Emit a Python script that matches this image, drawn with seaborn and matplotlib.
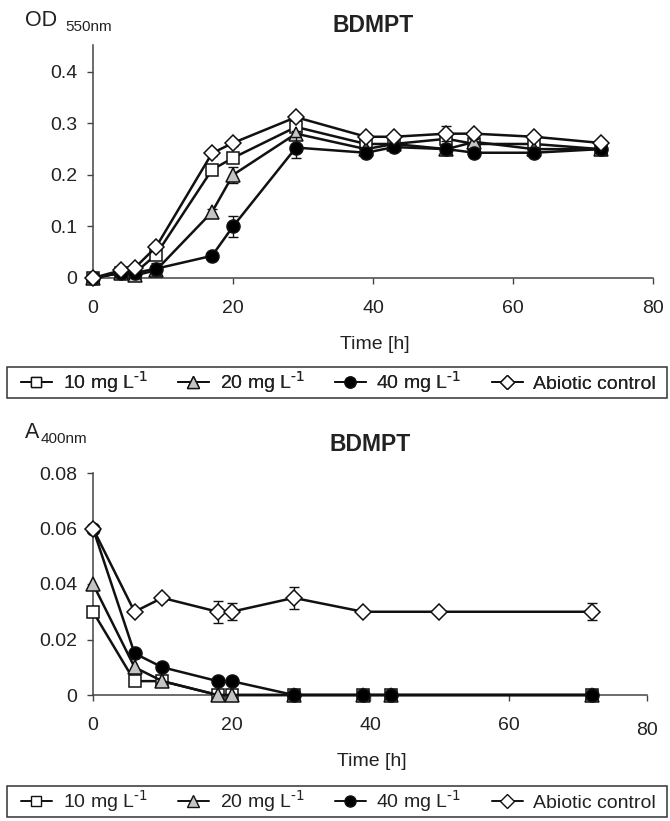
import matplotlib
matplotlib.use("Agg")
import matplotlib.pyplot as plt
import matplotlib.transforms as mtransforms
from matplotlib.patches import Rectangle
import seaborn as sns
from matplotlib.lines import Line2D

# ---------------- data ----------------
series_labels = [r"10 mg L$^{\text{-1}}$", r"20 mg L$^{\text{-1}}$", r"40 mg L$^{\text{-1}}$", "Abiotic control"]

# Top panel: OD 550nm
time_top = [0, 4, 6, 9, 17, 20, 29, 39, 43, 50.5, 54.5, 63, 72.5]
od_10 = [0, 0.01, 0.01, 0.045, 0.21, 0.233, 0.293, 0.26, 0.26, 0.27, 0.26, 0.26, 0.25]
od_20 = [0, 0.01, 0.005, 0.015, 0.128, 0.2, 0.28, 0.25, 0.26, 0.25, 0.264, 0.25, 0.25]
od_40 = [0, 0.01, 0.01, 0.018, 0.043, 0.1, 0.253, 0.243, 0.254, 0.25, 0.243, 0.243, 0.25]
od_abiotic = [0, 0.015, 0.02, 0.06, 0.242, 0.262, 0.312, 0.274, 0.274, 0.28, 0.28, 0.274, 0.262]
od_10_err = [0, 0, 0, 0.005, 0.005, 0.008, 0.005, 0.005, 0.005, 0.015, 0.005, 0.005, 0.012]
od_20_err = [0, 0, 0, 0.005, 0.005, 0.015, 0.005, 0.005, 0.005, 0.01, 0.005, 0.005, 0.01]
od_40_err = [0, 0, 0, 0.012, 0.005, 0.02, 0.02, 0.005, 0.005, 0.01, 0.005, 0.005, 0.01]
od_abiotic_err = [0, 0, 0, 0.005, 0.005, 0.005, 0.005, 0.005, 0.005, 0.015, 0.005, 0.005, 0.005]

# Bottom panel: A 400nm
time_bot = [0, 6, 10, 18, 20, 29, 39, 43, 72]
time_bot_abiotic = [0, 6, 10, 18, 20, 29, 39, 50, 72]
a_10 = [0.03, 0.005, 0.005, 0, 0, 0, 0, 0, 0]
a_20 = [0.04, 0.01, 0.005, 0, 0, 0, 0, 0, 0]
a_40 = [0.06, 0.015, 0.01, 0.005, 0.005, 0, 0, 0, 0]
a_abiotic = [0.06, 0.03, 0.035, 0.03, 0.03, 0.035, 0.03, 0.03, 0.03]
a_abiotic_err = [0, 0, 0.001, 0.004, 0.003, 0.004, 0, 0, 0.003]

x_ticks = [0, 20, 40, 60, 80]
top_yticks = [0, 0.1, 0.2, 0.3, 0.4]
top_yticklabels = ["0", "0.1", "0.2", "0.3", "0.4"]
bot_yticks = [0, 0.02, 0.04, 0.06, 0.08]
bot_yticklabels = ["0", "0.02", "0.04", "0.06", "0.08"]

# ---------------- style ----------------
sns.set_theme(style="ticks")
plt.rcParams["font.family"] = ["Liberation Sans", "DejaVu Sans"]
plt.rcParams["mathtext.default"] = "regular"
TXT = "#222222"
AXC = "#444444"

W, H = 670, 821
fig = plt.figure(figsize=(W / 100, H / 100), dpi=100)

def fx(px):
    return px / W

def fy(py):
    return 1 - py / H

styles = [
    dict(marker="s", markerfacecolor="white", markersize=8.8),
    dict(marker="^", markerfacecolor="#c4c4c4", markersize=10.2),
    dict(marker="o", markerfacecolor="black", markersize=9.4),
    dict(marker="D", markerfacecolor="white", markersize=8.4),
]

def style_axes(ax, yticks, yticklabels, ylim, xlim):
    sns.despine(ax=ax)
    ax.set_xlim(*xlim)
    ax.set_ylim(*ylim)
    ax.set_xticks(x_ticks)
    ax.set_xticklabels([str(t) for t in x_ticks])
    ax.set_yticks(yticks)
    ax.set_yticklabels(yticklabels)
    for s in ["left", "bottom"]:
        ax.spines[s].set_color(AXC)
        ax.spines[s].set_linewidth(1.1)
    ax.tick_params(axis="both", direction="out", length=4.5, width=1.0,
                   color=AXC, labelsize=14, labelcolor=TXT)
    ax.tick_params(axis="x", pad=11)
    ax.tick_params(axis="y", pad=7)
    ax.set_xlabel("")
    ax.set_ylabel("")
    if ax.get_legend() is not None:
        ax.get_legend().remove()

def draw(ax, xs_list, ys_list, errs_list):
    for i, (xs, ys, errs) in enumerate(zip(xs_list, ys_list, errs_list)):
        st = styles[i]
        if errs is not None:
            ax.errorbar(xs, ys, yerr=errs, fmt="none", ecolor="#111111",
                        elinewidth=1.0, capsize=3.5, capthick=1.0, zorder=2 + i, clip_on=False)
        sns.lineplot(x=xs, y=ys, ax=ax, color="#111111", linewidth=1.8,
                     marker=st["marker"], markerfacecolor=st["markerfacecolor"],
                     markeredgecolor="#111111", markeredgewidth=1.1,
                     markersize=st["markersize"], clip_on=False, zorder=3 + i,
                     errorbar=None, estimator=None, sort=False)

# Top panel
ax1 = fig.add_axes([fx(93), fy(278), fx(653) - fx(93), fy(45) - fy(278)])
draw(ax1, [time_top] * 4, [od_10, od_20, od_40, od_abiotic],
     [od_10_err, od_20_err, od_40_err, od_abiotic_err])
style_axes(ax1, top_yticks, top_yticklabels, (0, 0.452), (0, 80))
ax1.set_title("BDMPT", fontsize=16.5, fontweight="bold", color=TXT, pad=9)

# Bottom panel
ax2 = fig.add_axes([fx(93), fy(695), fx(647) - fx(93), fy(473) - fy(695)])
draw(ax2, [time_bot, time_bot, time_bot, time_bot_abiotic], [a_10, a_20, a_40, a_abiotic],
     [None, None, None, a_abiotic_err])
style_axes(ax2, bot_yticks, bot_yticklabels, (0, 0.08), (0, 80))
ax2.set_title("BDMPT", fontsize=16.5, fontweight="bold", color=TXT, pad=16)
# last x tick label sits a bit lower in the reference
lbl = ax2.get_xticklabels()[-1]
lbl.set_transform(lbl.get_transform() + mtransforms.ScaledTranslation(0, -5 / 100, fig.dpi_scale_trans))

# axis titles
fig.text(fx(25), fy(26), "OD", fontsize=15.5, color=TXT, ha="left", va="baseline")
fig.text(fx(65), fy(31), "550nm", fontsize=11, color=TXT, ha="left", va="baseline")
fig.text(fx(25), fy(438), "A", fontsize=15.5, color=TXT, ha="left", va="baseline")
fig.text(fx(41), fy(443), "400nm", fontsize=11, color=TXT, ha="left", va="baseline")
fig.text(fx(375), fy(344), "Time [h]", fontsize=14, color=TXT, ha="center", va="center")
fig.text(fx(372), fy(761), "Time [h]", fontsize=14, color=TXT, ha="center", va="center")

# legends
handles = [Line2D([], [], color="#111111", linewidth=1.4, marker=st["marker"],
                  markerfacecolor=st["markerfacecolor"], markeredgecolor="#111111",
                  markeredgewidth=1.0, markersize=st["markersize"] * 0.85)
           for st in styles]

def add_legend(top_px, bottom_px):
    fig.add_artist(Rectangle((fx(7), fy(bottom_px)), fx(667) - fx(7), fy(top_px) - fy(bottom_px),
                             transform=fig.transFigure, facecolor="white",
                             edgecolor="#333333", linewidth=1.1, zorder=0))
    leg = fig.legend(handles, series_labels, ncol=4, loc="center left",
                     bbox_to_anchor=(fx(17), (fy(bottom_px) + fy(top_px)) / 2),
                     frameon=False, fontsize=14,
                     handlelength=1.6, handletextpad=0.55, columnspacing=1.55,
                     borderaxespad=0.0, borderpad=0.2, labelcolor=TXT)
    return leg

leg1 = add_legend(367, 398)
fig.add_artist(leg1)
leg2 = add_legend(786, 817)

fig.savefig("out.png", dpi=100, facecolor="white")
